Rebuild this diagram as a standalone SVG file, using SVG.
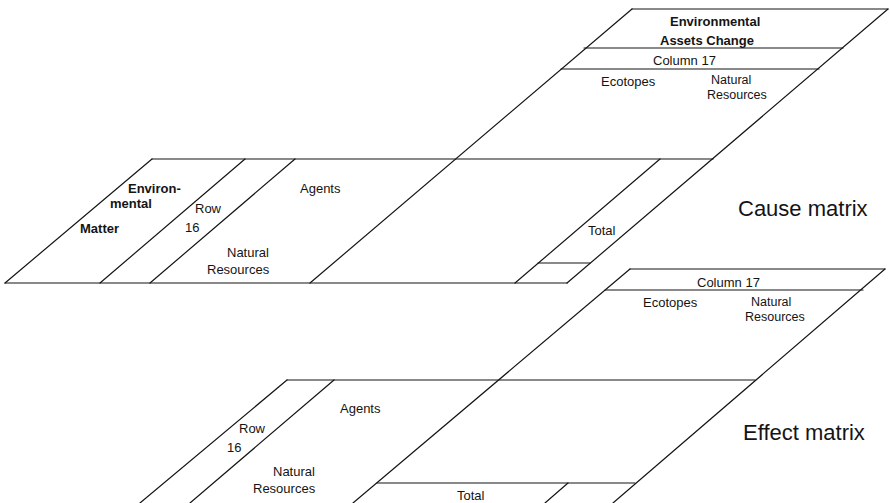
<svg xmlns="http://www.w3.org/2000/svg" width="890" height="503" viewBox="0 0 890 503">
<style>
line{stroke:#141414;stroke-width:1.2;fill:none;stroke-linecap:round}
text{font-family:"Liberation Sans",Arial,sans-serif;fill:#141414;font-size:13px}
.b{font-weight:bold}
.big{font-size:22px}
.s{font-size:12.5px}
</style>
<rect width="890" height="503" fill="#ffffff"/>
<g id="cause-vertical">
<line x1="632" y1="9" x2="888" y2="9"/>
<line x1="584" y1="48" x2="843" y2="48"/>
<line x1="561" y1="69" x2="819" y2="69"/>
<line x1="632" y1="9" x2="310" y2="283"/>
<line x1="888" y1="9" x2="567" y2="283"/>
<text class="b" x="670" y="26">Environmental</text>
<text class="b" x="660" y="45">Assets Change</text>
<text x="653" y="65">Column 17</text>
<text x="601" y="86">Ecotopes</text>
<text class="s" x="711" y="84">Natural</text>
<text class="s" x="707" y="98.5">Resources</text>
</g>
<g id="cause-horizontal">
<line x1="152" y1="159" x2="713" y2="159"/>
<line x1="5" y1="283" x2="567" y2="283"/>
<line x1="152" y1="159" x2="5" y2="283"/>
<line x1="245" y1="159" x2="100" y2="283"/>
<line x1="295" y1="159" x2="150" y2="283"/>
<line x1="660" y1="159" x2="515" y2="283"/>
<line x1="538" y1="263" x2="590" y2="263"/>
<text class="b" x="128" y="193">Environ-</text>
<text class="b" x="110" y="208">mental</text>
<text class="b" x="80" y="233">Matter</text>
<text x="195" y="213">Row</text>
<text x="185" y="232">16</text>
<text x="300" y="193">Agents</text>
<text x="227" y="257">Natural</text>
<text x="207" y="274">Resources</text>
<text x="588" y="235">Total</text>
</g>
<text id="cause-label" class="big" x="738" y="216">Cause matrix</text>
<g id="effect-vertical">
<line x1="630" y1="269" x2="885" y2="269"/>
<line x1="605" y1="290" x2="863" y2="290"/>
<line x1="630" y1="269" x2="353" y2="503"/>
<line x1="885" y1="269" x2="613" y2="503"/>
<text x="697" y="287">Column 17</text>
<text x="643" y="307">Ecotopes</text>
<text class="s" x="751" y="306">Natural</text>
<text class="s" x="745" y="320.5">Resources</text>
</g>
<g id="effect-horizontal">
<line x1="287" y1="380" x2="755" y2="380"/>
<line x1="287" y1="380" x2="140" y2="503"/>
<line x1="334" y1="380" x2="190" y2="503"/>
<line x1="377" y1="483" x2="635" y2="483"/>
<line x1="568" y1="483" x2="545" y2="503"/>
<text x="340" y="413">Agents</text>
<text x="239" y="433">Row</text>
<text x="227" y="452">16</text>
<text x="273" y="476">Natural</text>
<text x="253" y="493">Resources</text>
<text x="457" y="500">Total</text>
</g>
<text id="effect-label" class="big" x="743" y="440">Effect matrix</text>
</svg>
